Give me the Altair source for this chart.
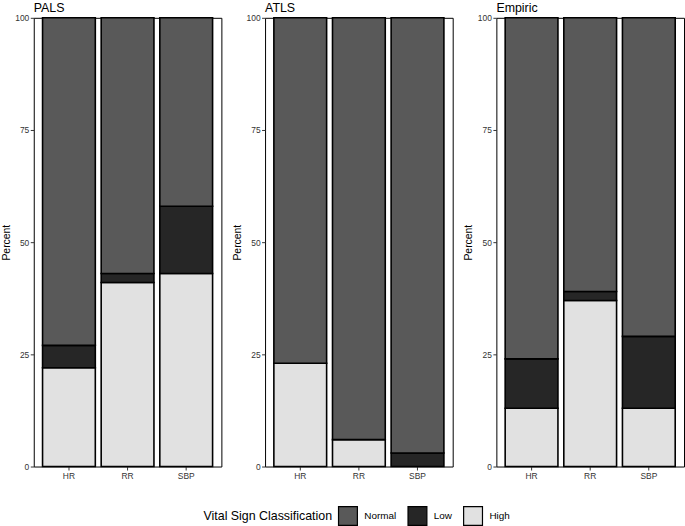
import altair as alt
import pandas as pd

panels = ["PALS", "ATLS", "Empiric"]
signs = ["HR", "RR", "SBP"]
classes = ["Normal", "Low", "High"]
colors = ["#595959", "#262626", "#e1e1e1"]

# Percent of each classification, per panel, for HR / RR / SBP
high = {"PALS": [22, 41, 43], "ATLS": [23, 6, 0], "Empiric": [13, 37, 13]}
low = {"PALS": [5, 2, 15], "ATLS": [0, 0, 3], "Empiric": [11, 2, 16]}
normal = {"PALS": [73, 57, 42], "ATLS": [77, 94, 97], "Empiric": [76, 61, 71]}

stack_order = {"High": 0, "Low": 1, "Normal": 2}

rows = []
for p in panels:
    for i, s in enumerate(signs):
        for cls, src in (("High", high), ("Low", low), ("Normal", normal)):
            rows.append({"panel": p, "sign": s, "cls": cls,
                         "pct": src[p][i], "ord": stack_order[cls]})
df = pd.DataFrame(rows)

FONT = "Liberation Sans"


def make_panel(name):
    return (
        alt.Chart(df[df.panel == name])
        .transform_filter("datum.pct > 0")
        .mark_bar(stroke="black", strokeWidth=1.6)
        .encode(
            x=alt.X("sign:N", sort=signs, title=None,
                    scale=alt.Scale(paddingInner=0.1, paddingOuter=0.15),
                    axis=alt.Axis(labelAngle=0)),
            y=alt.Y("pct:Q", stack="zero", title="Percent",
                    scale=alt.Scale(domain=[0, 100], nice=False),
                    axis=alt.Axis(values=[0, 25, 50, 75, 100])),
            color=alt.Color(
                "cls:N",
                scale=alt.Scale(domain=classes, range=colors),
                legend=alt.Legend(
                    title="Vital Sign Classification",
                    orient="none", legendX=171, legendY=491,
                    direction="horizontal", titleOrient="left",
                    symbolType="square", symbolSize=361,
                    symbolStrokeColor="black", symbolStrokeWidth=1.2,
                    symbolOpacity=1,
                    labelFontSize=10, titleFontSize=12.5,
                    titleFontWeight="normal", titleColor="black",
                    labelColor="black", labelFont=FONT, titleFont=FONT,
                    columnPadding=8, labelOffset=6, titlePadding=5,
                ),
            ),
            order=alt.Order("ord:Q", sort="ascending"),
        )
        .properties(
            width=189, height=452,
            title=alt.TitleParams(name, anchor="start", frame="group",
                                  fontSize=12.5, fontWeight="normal",
                                  font=FONT, color="black", offset=-1),
        )
    )


chart = (
    alt.hconcat(*[make_panel(p) for p in panels], spacing=9)
    .properties(padding=0, background="white")
    .configure_view(stroke="black", strokeWidth=1)
    .configure_axis(
        domain=False, grid=False, tickColor="#333333", tickSize=3.5,
        tickWidth=1, labelFont=FONT, labelFontSize=8.5, labelColor="#333333",
        titleFont=FONT, titleFontSize=10.5, titleFontWeight="normal",
        titleColor="black", labelPadding=1.5,
    )
    .configure_axisY(titlePadding=3.5)
)

chart.save("out.html", embed_options={"renderer": "svg", "actions": False})
